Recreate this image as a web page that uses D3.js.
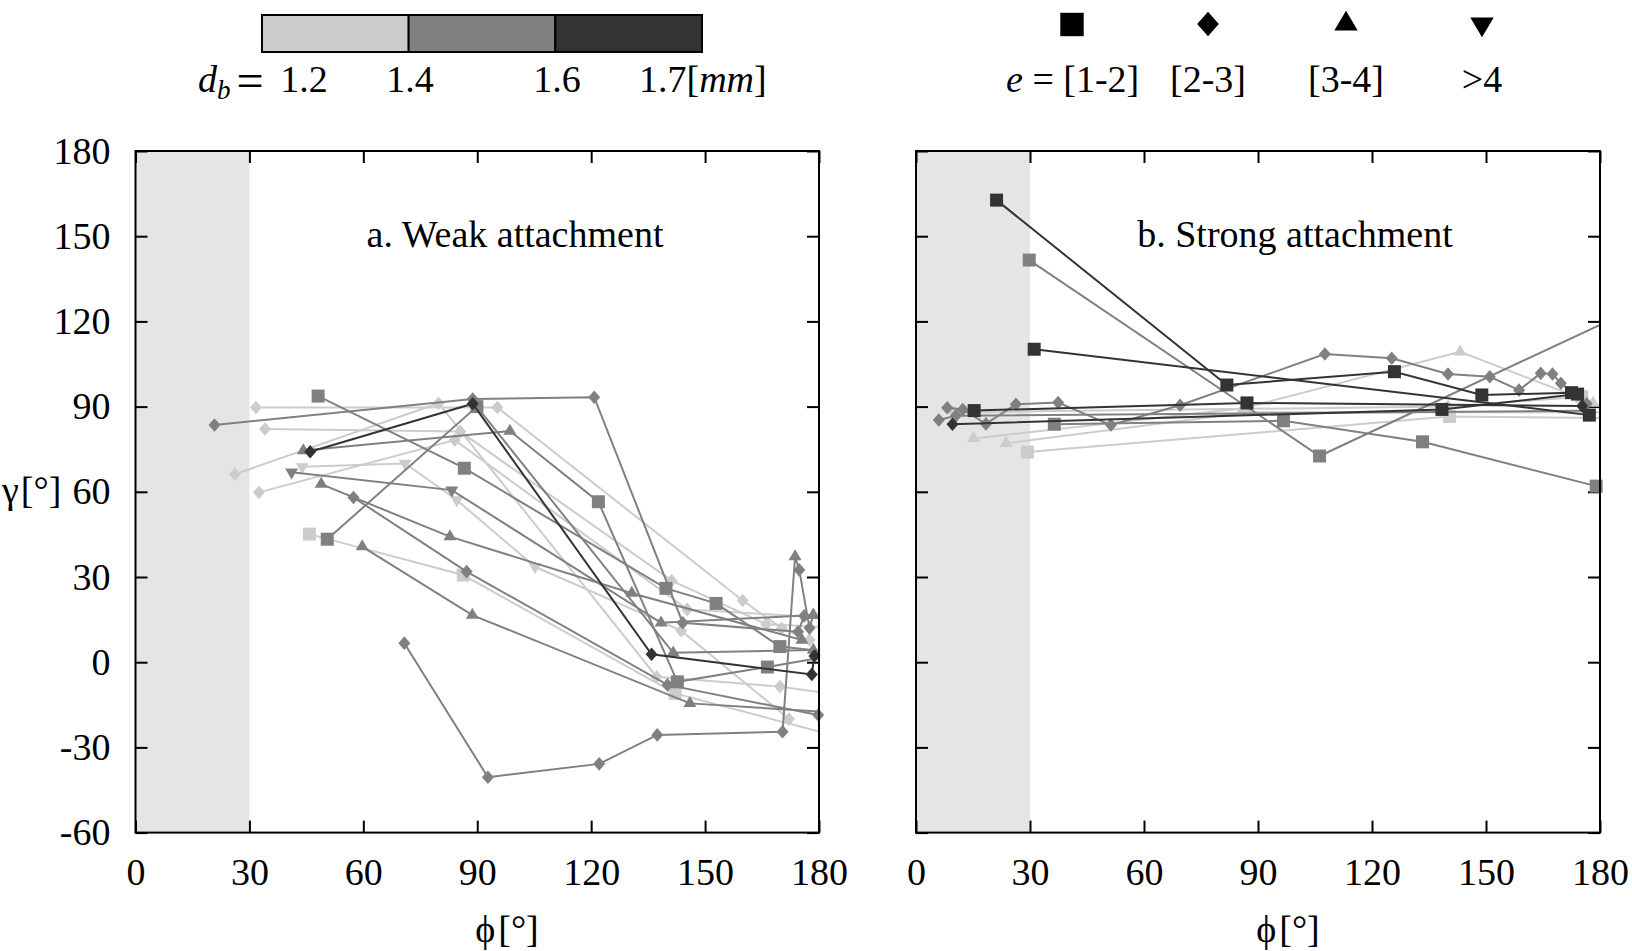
<!DOCTYPE html>
<html><head><meta charset="utf-8">
<script src="https://cdn.jsdelivr.net/npm/d3@7"></script>
<style>
html,body{margin:0;padding:0;background:#fff;}
text{font-family:"Liberation Serif","Times New Roman",serif;fill:#000;}
</style></head>
<body>
<svg id="chart" width="1632" height="951"></svg>
<script>
// ---------- data ----------
// each point: [phi (deg), gamma (deg), marker]  S=e[1-2]  D=e[2-3]  T=e[3-4]  V=e>4  N=no marker
const xTicks = [0, 30, 60, 90, 120, 150, 180];
const yTicks = [-60, -30, 0, 30, 60, 90, 120, 150, 180];
const shadeRange = [0, 30];
const dbLabels = ["1.2", "1.4", "1.6", "1.7"];
const eLabels = ["[1-2]", "[2-3]", "[3-4]", ">4"];
const eShapes = ["S", "D", "T", "V"];
const shadeColors = ["#cccccc", "#808080", "#333333"];

const weakLight = [
  [[31.7,89.7,"D"],[95.3,89.7,"D"],[159.9,21.7,"D"],[170.2,11.9,"D"],[177.5,7.8,"D"]],
  [[34.1,82.1,"D"],[85.5,81.2,"D"],[141.2,28.7,"D"],[166.1,13.4,"D"],[180,12.5,"N"]],
  [[26.2,66.2,"D"],[79.8,91.2,"D"],[137.2,-5.1,"D"],[169.7,-8.6,"D"],[180,-10.5,"N"]],
  [[32.5,59.8,"D"],[84.1,78.2,"D"],[145.3,18.6,"D"],[180,15.8,"N"]],
  [[43.9,68.8,"V"],[71,70,"V"],[84.6,57.1,"V"],[105.2,33.6,"V"],[143.7,11.1,"D"],[172.1,-20,"D"]],
  [[45.8,45.1,"S"],[86.3,30.7,"S"],[142.1,-11,"S"],[180,-24.4,"N"]]
];
const weakMid = [
  [[20.8,83.5,"D"],[88.8,92.7,"D"],[120.8,93.3,"D"],[144.1,13.9,"D"],[174.5,10.7,"D"],[176.1,16.3,"D"]],
  [[48.1,93.7,"S"],[86.6,68.3,"S"],[139.7,26,"S"],[152.9,20.7,"S"],[169.7,5.5,"S"],[180,4,"N"]],
  [[50.5,43.3,"S"],[89.9,90,"S"],[141.6,3.3,"T"],[178.5,4.3,"T"]],
  [[44.2,74.5,"T"],[98.6,81.4,"T"],[121.9,56.5,"S"],[142.7,-6.9,"S"],[166.4,-1.7,"S"],[180,1.5,"N"]],
  [[41.1,66.9,"V"],[83.3,60.6,"V"],[138.4,13.9,"T"],[178.5,16.6,"T"]],
  [[48.9,62.7,"T"],[82.8,44.2,"T"],[130.7,24.3,"T"],[175.5,7.8,"T"]],
  [[57.4,58,"D"],[87.2,31.9,"D"],[140.1,-8,"D"],[179.8,-18.6,"D"]],
  [[59.7,40.7,"T"],[88.7,16.6,"T"],[146,-14.5,"T"],[180,-17.4,"N"]],
  [[70.8,6.7,"D"],[92.8,-40.5,"D"],[122.1,-35.8,"D"],[137.4,-25.6,"D"],[170.4,-24.5,"D"],[173.7,37.2,"T"],[174.8,32.5,"D"],[177.5,12,"D"],[178.5,16.6,"T"]]
];
const weakDark = [
  [[46,74.1,"D"],[88.8,91,"D"],[135.9,2.8,"D"],[178.1,-4.3,"D"],[178.8,2.2,"D"]]
];
const strongLight = [
  [[15.1,78.8,"T"],[86.1,89.4,"T"],[143.2,109.3,"T"],[178.2,91.2,"T"]],
  [[23.7,77.1,"T"],[87.5,88,"T"],[180,88,"N"]],
  [[29.3,74,"S"],[140.4,86.5,"S"],[180,86,"N"]],
  [[10,88,"D"],[140,90,"D"],[175.2,93.5,"S"]]
];
const strongMid = [
  [[8.2,89.6,"D"],[12.3,89,"D"],[18.4,83.9,"D"],[26.3,90.8,"D"],[37.4,91.4,"D"],[51.3,83.5,"D"],[69.5,90.5,"D"],[107.6,108.5,"D"],[125.2,107,"D"],[140,101.5,"D"],[151,100.5,"D"],[158.7,95.8,"D"],[164.4,101.7,"D"],[167.5,101.5,"D"],[169.7,98.2,"D"],[176.5,91,"D"]],
  [[6,85.3,"D"],[10.5,86.8,"D"],[176,88.5,"N"]],
  [[29.8,141.6,"S"],[106.2,72.6,"S"],[180,118.8,"N"]],
  [[36.4,83.8,"S"],[96.7,85,"S"],[133.3,77.6,"S"],[179,62,"S"]]
];
const strongDark = [
  [[21.2,162.7,"S"],[81.8,97.6,"S"],[125.9,102.3,"S"],[148.9,94.1,"S"],[172.5,94.9,"S"]],
  [[31.1,110.2,"S"],[177.2,87,"S"]],
  [[15.3,88.6,"S"],[87.1,91.3,"S"],[175.3,90.2,"D"]],
  [[9.6,83.8,"D"],[138.4,89,"S"],[174.1,94.4,"S"]]
];

// ---------- drawing ----------
const svg = d3.select("#chart");
const FS = 38;
const yScale = d3.scaleLinear().domain([-60, 180]).range([832.6, 151]);

function markerPath(shape, big) {
  const k = big ? 1.8 : 1;
  if (shape === "S") { const h = 6.5 * k; return `M${-h},${-h}H${h}V${h}H${-h}Z`; }
  if (shape === "D") { const w = 6 * k, hh = 6.8 * k; return `M0,${-hh}L${w},0L0,${hh}L${-w},0Z`; }
  if (shape === "T") { const w = 6.5 * k, ht = 11 * k; return `M0,${-2*ht/3}L${w},${ht/3}L${-w},${ht/3}Z`; }
  if (shape === "V") { const w = 6.5 * k, ht = 11 * k; return `M0,${2*ht/3}L${w},${-ht/3}L${-w},${-ht/3}Z`; }
  return "";
}

function panel(x0, x1, title, titleX, showYLabels, groups, axisTitleX) {
  const x = d3.scaleLinear().domain([0, 180]).range([x0, x1]);
  const y = yScale;
  const g = svg.append("g");
  g.append("rect").attr("x", x(shadeRange[0])).attr("y", y(180))
    .attr("width", x(shadeRange[1]) - x(shadeRange[0])).attr("height", y(-60) - y(180))
    .attr("fill", "#e5e5e5");
  const fmt = v => String(v);
  const bottom = g.append("g").attr("transform", `translate(0,${y(-60)})`)
    .call(d3.axisBottom(x).tickValues(xTicks).tickSize(-12).tickPadding(25).tickFormat(fmt));
  const top = g.append("g").attr("transform", `translate(0,${y(180)})`)
    .call(d3.axisTop(x).tickValues(xTicks).tickSize(-12).tickFormat(""));
  const left = g.append("g").attr("transform", `translate(${x0},0)`)
    .call(d3.axisLeft(y).tickValues(yTicks).tickSize(-12).tickPadding(25)
      .tickFormat(showYLabels ? fmt : ""));
  const right = g.append("g").attr("transform", `translate(${x1},0)`)
    .call(d3.axisRight(y).tickValues(yTicks).tickSize(-12).tickFormat(""));
  [bottom, top, left, right].forEach(a => {
    a.select(".domain").remove();
    a.selectAll("line").attr("stroke", "#000").attr("stroke-width", 2);
    a.selectAll("text").attr("font-family", '"Liberation Serif",serif').attr("font-size", FS).attr("fill", "#000");
  });
  const cid = "clip" + Math.round(x0);
  svg.append("clipPath").attr("id", cid).append("rect")
    .attr("x", x0).attr("y", y(180)).attr("width", x1 - x0).attr("height", y(-60) - y(180));
  const data = g.append("g");
  const line = d3.line().x(d => x(d[0])).y(d => y(d[1]));
  groups.forEach(([series, color]) => {
    series.forEach(s => {
      data.append("path").attr("d", line(s)).attr("fill", "none")
        .attr("stroke", color).attr("stroke-width", 2).attr("clip-path", `url(#${cid})`);
      data.selectAll(null).data(s.filter(p => p[2] !== "N")).enter().append("path")
        .attr("d", d => markerPath(d[2], false))
        .attr("transform", d => `translate(${x(d[0])},${y(d[1])})`)
        .attr("fill", color);
    });
  });
  g.append("rect").attr("x", x0).attr("y", y(180)).attr("width", x1 - x0)
    .attr("height", y(-60) - y(180)).attr("fill", "none").attr("stroke", "#000").attr("stroke-width", 2);
  g.append("text").attr("x", titleX).attr("y", 247).attr("text-anchor", "middle")
    .attr("font-size", FS).text(title);
  const xt = g.append("text").attr("x", axisTitleX).attr("y", 942).attr("text-anchor", "middle").attr("font-size", FS);
  xt.append("tspan").text("\u03D5");
  xt.append("tspan").attr("dx", 3).text("[°]");
}

panel(135.5, 819, "a. Weak attachment", 515, true,
  [[weakLight, shadeColors[0]], [weakMid, shadeColors[1]], [weakDark, shadeColors[2]]], 507);
panel(916, 1600, "b. Strong attachment", 1295, false,
  [[strongLight, shadeColors[0]], [strongMid, shadeColors[1]], [strongDark, shadeColors[2]]], 1288);

// y axis title
const yt = svg.append("text").attr("x", 2).attr("y", 503).attr("text-anchor", "start").attr("font-size", FS);
yt.append("tspan").text("\u03B3");
yt.append("tspan").attr("dx", 2).text("[°]");

// ---------- colour legend ----------
const cbX = d3.scaleLinear().domain([0, 3]).range([262, 702]);
svg.append("g").selectAll("rect").data(shadeColors).enter().append("rect")
  .attr("x", (d, i) => cbX(i)).attr("y", 15).attr("width", cbX(1) - cbX(0)).attr("height", 37)
  .attr("fill", d => d).attr("stroke", "#000").attr("stroke-width", 2);
const dbT = svg.append("text").attr("x", 198).attr("y", 92).attr("font-size", FS);
dbT.append("tspan").attr("font-style", "italic").text("d");
dbT.append("tspan").attr("font-style", "italic").attr("font-size", 27).attr("dy", 7).text("b");
svg.append("text").attr("x", 250).attr("y", 97).attr("text-anchor", "middle").attr("font-size", 48).text("=");
svg.append("text").attr("x", 304).attr("y", 92).attr("text-anchor", "middle").attr("font-size", FS).text(dbLabels[0]);
svg.append("text").attr("x", 410).attr("y", 92).attr("text-anchor", "middle").attr("font-size", FS).text(dbLabels[1]);
svg.append("text").attr("x", 557).attr("y", 92).attr("text-anchor", "middle").attr("font-size", FS).text(dbLabels[2]);
const l17 = svg.append("text").attr("x", 639).attr("y", 92).attr("font-size", FS);
l17.append("tspan").text(dbLabels[3] + "[");
l17.append("tspan").attr("font-style", "italic").text("mm");
l17.append("tspan").text("]");

// ---------- shape legend ----------
const legX = [1072, 1208, 1346, 1482];
const legY = [24.5, 24, 24, 24];
eShapes.forEach((s, i) => {
  svg.append("path").attr("d", markerPath(s, true))
    .attr("transform", `translate(${legX[i]},${legY[i]})`).attr("fill", "#000");
});
const eT = svg.append("text").attr("x", 1006).attr("y", 92).attr("font-size", FS);
eT.append("tspan").attr("font-style", "italic").text("e");
eT.append("tspan").text(" = " + eLabels[0]);
eLabels.slice(1).forEach((t, i) => {
  svg.append("text").attr("x", legX[i + 1]).attr("y", 92).attr("text-anchor", "middle")
    .attr("font-size", FS).text(t);
});
</script>
</body></html>
